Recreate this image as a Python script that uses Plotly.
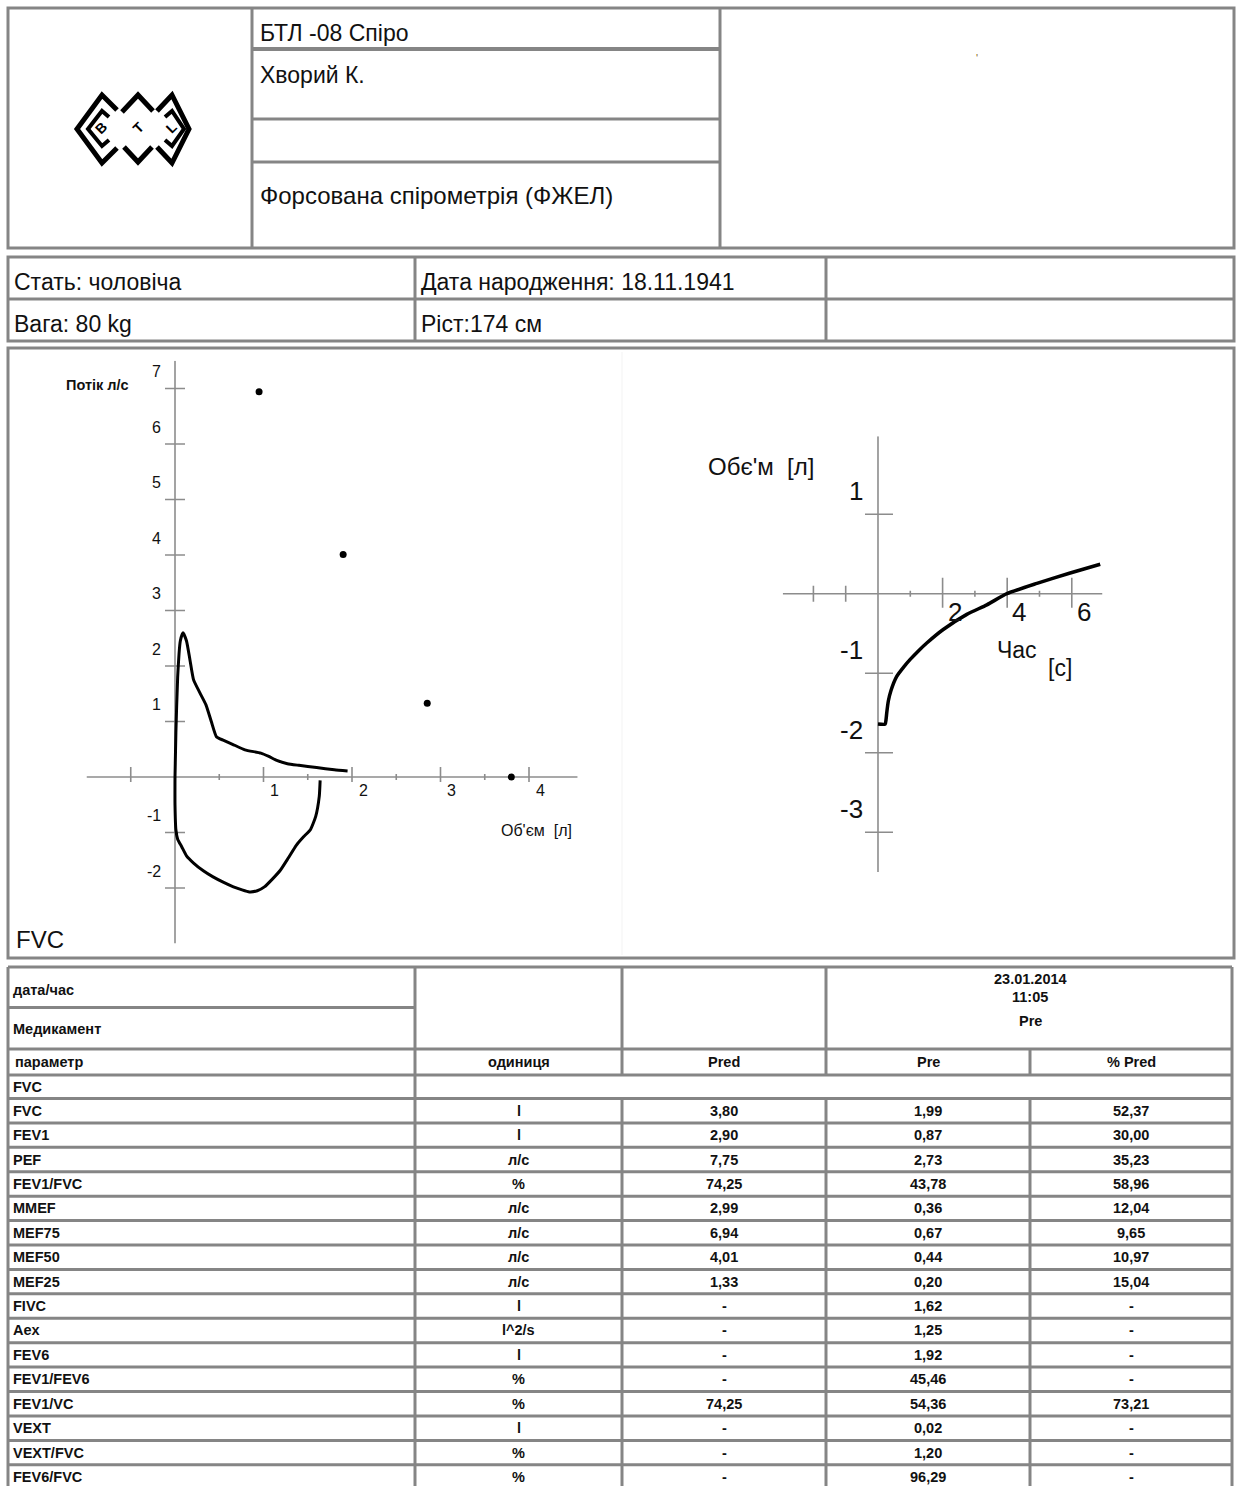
import plotly.graph_objects as go

# ---------------------------------------------------------------- data
# Table of spirometry parameters
params = ["FVC", "FEV1", "PEF", "FEV1/FVC", "MMEF", "MEF75", "MEF50", "MEF25",
          "FIVC", "Aex", "FEV6", "FEV1/FEV6", "FEV1/VC", "VEXT", "VEXT/FVC", "FEV6/FVC"]
units = ["l", "l", "л/с", "%", "л/с", "л/с", "л/с", "л/с",
         "l", "l^2/s", "l", "%", "%", "l", "%", "%"]
pred_vals = [3.80, 2.90, 7.75, 74.25, 2.99, 6.94, 4.01, 1.33,
             None, None, None, None, 74.25, None, None, None]
pre_vals = [1.99, 0.87, 2.73, 43.78, 0.36, 0.67, 0.44, 0.20,
            1.62, 1.25, 1.92, 45.46, 54.36, 0.02, 1.20, 96.29]
pct_pred_vals = [52.37, 30.00, 35.23, 58.96, 12.04, 9.65, 10.97, 15.04,
                 None, None, None, None, 73.21, None, None, None]

# Flow-volume loop: expiratory limb (volume l, flow l/s)
exp_volume = [0.00, 0.01, 0.03, 0.06, 0.09, 0.13, 0.17, 0.21, 0.28, 0.35, 0.41, 0.47,
              0.55, 0.65, 0.79, 0.97, 1.06, 1.15, 1.27, 1.40, 1.60, 1.80, 1.95]
exp_flow = [0.00, 0.80, 1.80, 2.45, 2.60, 2.45, 2.10, 1.75, 1.52, 1.30, 1.00, 0.72,
            0.66, 0.59, 0.49, 0.43, 0.37, 0.30, 0.24, 0.21, 0.17, 0.13, 0.11]
# Flow-volume loop: inspiratory limb
insp_volume = [1.64, 1.63, 1.59, 1.53, 1.45, 1.37, 1.28, 1.19, 1.10, 1.01, 0.93, 0.84,
               0.75, 0.66, 0.55, 0.43, 0.32, 0.21, 0.13, 0.077, 0.03, 0.01, 0.00, 0.00]
insp_flow = [-0.06, -0.35, -0.71, -0.95, -1.08, -1.23, -1.46, -1.68, -1.84, -1.98, -2.05, -2.07,
             -2.03, -1.98, -1.90, -1.80, -1.69, -1.55, -1.42, -1.26, -1.12, -0.95, -0.50, 0.00]

# Predicted points on the loop: MEF75, MEF50, MEF25 and FVC
pred_fraction = [0.25, 0.50, 0.75, 1.00]
pred_flow = [6.94, 4.01, 1.33, 0.0]

# Volume-time curve (time s, volume l)
vt_time = [0.00, 0.22, 0.25, 0.27, 0.32, 0.40, 0.58, 0.80, 0.99, 1.25, 1.51, 2.02,
           2.75, 3.37, 3.99, 4.92, 5.95, 6.88]
vt_volume = [-1.64, -1.64, -1.58, -1.50, -1.35, -1.22, -1.04, -0.92, -0.83, -0.72, -0.62, -0.45,
             -0.26, -0.14, 0.00, 0.13, 0.26, 0.37]

fv_yticks = [-2, -1, 1, 2, 3, 4, 5, 6, 7]
fv_xticks = [1, 2, 3, 4]
fv_xmajor = [-0.5, 1, 2, 3, 4]
fv_xminor = [0.5, 1.5, 2.5, 3.5]
vt_yticks = [-3, -2, -1, 1]
vt_xticks = [2, 4, 6]
vt_xleft = [-2, -1]
vt_xminor = [1, 3, 5]

# ---------------------------------------------------------------- layout helpers
W, H = 1239, 1486
FONT = "Liberation Sans, Arial, sans-serif"
GRID = "#858585"
AXIS = "#8c8c8c"


def fx(x):
    return x / W


def fy(y):
    return 1 - y / H


def fmt(v):
    return "-" if v is None else f"{v:.2f}".replace(".", ",")


shapes = []
annotations = []


def line(x0, y0, x1, y1, color=GRID, width=3):
    shapes.append(dict(type="line", xref="paper", yref="paper",
                       x0=fx(x0), y0=fy(y0), x1=fx(x1), y1=fy(y1),
                       line=dict(color=color, width=width)))


def rect(x0, y0, x1, y1, color=GRID, width=3):
    shapes.append(dict(type="rect", xref="paper", yref="paper",
                       x0=fx(x0), y0=fy(y0), x1=fx(x1), y1=fy(y1),
                       line=dict(color=color, width=width)))


def text(x, y, s, size=22, anchor="left", bold=False, color="#111", family=FONT, angle=0):
    annotations.append(dict(xref="paper", yref="paper", x=fx(x), y=fy(y),
                            text=f"<b>{s}</b>" if bold else s, showarrow=False,
                            xanchor=anchor, yanchor="middle", textangle=angle,
                            font=dict(family=family, size=size, color=color)))


def path(points, width=5):
    d = "M " + " L ".join(f"{fx(px):.5f},{fy(py):.5f}" for px, py in points)
    shapes.append(dict(type="path", xref="paper", yref="paper", path=d,
                       line=dict(color="black", width=width)))


# ---------------------------------------------------------------- header block
rect(8, 8, 1234, 248)
line(252, 8, 252, 248)
line(720, 8, 720, 248)
line(252, 49, 720, 49, width=4)
line(252, 119, 720, 119)
line(252, 162, 720, 162)
text(258, 33, "БТЛ -08 Спіро", 23)
text(258, 75, "Хворий К.", 23)
text(258, 195, "Форсована спірометрія (ФЖЕЛ)", 24)
text(977, 58, "'", 11, anchor="center", color="#8a6a20")

# logo: three interlocked diamonds with rotated letters
path([(117, 110), (102, 95), (77, 129), (102, 163), (117, 148)])
path([(109, 117), (102, 111), (88, 129), (102, 146), (109, 140)], width=4)
path([(122, 112), (138, 95), (153, 111)])
path([(124, 147), (138, 162), (152, 147)])
path([(157, 111), (172, 95), (189, 129), (172, 163), (157, 147)])
path([(165, 117), (172, 111), (184, 129), (172, 146), (165, 140)], width=4)
for lx, letter in [(101, "B"), (138, "T"), (171, "L")]:
    text(lx, 128, letter, 14, anchor="center", bold=True, color="black", angle=-45)

# ---------------------------------------------------------------- patient block
rect(8, 257, 1234, 341)
line(8, 299, 1234, 299)
line(415, 257, 415, 341)
line(826, 257, 826, 341)
text(12, 282, "Стать: чоловіча", 23)
text(12, 324, "Вага: 80 kg", 23)
text(419, 282, "Дата народження: 18.11.1941", 23)
text(419, 324, "Ріст:174 см", 23)

# ---------------------------------------------------------------- chart block
rect(8, 348, 1234, 958)
line(622, 352, 622, 955, color="#f3f3f3", width=1)
text(14, 940, "FVC", 24)

# ---------------------------------------------------------------- results table
T_TOP, T_BOTTOM = 967, 1490
COLS = [8, 415, 622, 826, 1030, 1232]
ROW0, ROW_H = 1098.5, 24.42
n_rows = len(params)
row_edges = [ROW0 + ROW_H * k for k in range(n_rows + 1)]

line(8, T_TOP, 1232, T_TOP)
line(8, 1007.5, 415, 1007.5)
line(8, 1049, 1232, 1049)
line(8, 1075, 1232, 1075)
for yb in row_edges:
    line(8, yb, 1232, yb)
line(8, T_TOP, 8, T_BOTTOM)
line(1232, T_TOP, 1232, T_BOTTOM)
line(415, T_TOP, 415, T_BOTTOM)
for xc in (622, 826):
    line(xc, T_TOP, xc, 1075)
    line(xc, ROW0, xc, T_BOTTOM)
line(1030, 1049, 1030, 1075)
line(1030, ROW0, 1030, T_BOTTOM)

TS = 14.5
text(11, 990, "дата/час", TS, bold=True)
text(11, 1029, "Медикамент", TS, bold=True)
text(1030, 979, "23.01.2014", TS, anchor="center", bold=True)
text(1030, 997, "11:05", TS, anchor="center", bold=True)
text(1030, 1021, "Pre", TS, anchor="center", bold=True)
centers = [(COLS[i] + COLS[i + 1]) / 2 for i in range(1, 5)]
head_y = 1062
text(13, head_y, "параметр", TS, bold=True)
for cx, s in zip(centers, ["одиниця", "Pred", "Pre", "% Pred"]):
    text(cx, head_y, s, TS, anchor="center", bold=True)
text(11, 1087, "FVC", TS, bold=True)
for i in range(n_rows):
    cy = (row_edges[i] + row_edges[i + 1]) / 2
    text(11, cy, params[i], TS, bold=True)
    text(centers[0], cy, units[i], TS, anchor="center", bold=True)
    text(centers[1], cy, fmt(pred_vals[i]), TS, anchor="center", bold=True)
    text(centers[2], cy, fmt(pre_vals[i]), TS, anchor="center", bold=True)
    text(centers[3], cy, fmt(pct_pred_vals[i]), TS, anchor="center", bold=True)

# ---------------------------------------------------------------- plot areas
# flow-volume: origin pixel and pixels per unit
FV_X0, FV_XS, FV_Y0, FV_YS = 175, 88.5, 777, 55.5
fv_xr, fv_yr = [-1.0, 4.55], [-3.0, 7.5]
# volume-time
VT_X0, VT_XS, VT_Y0, VT_YS = 878, 32.3, 593.7, 79.5
vt_xr, vt_yr = [-2.95, 6.95], [-3.5, 1.98]

fig = go.Figure()


def segs(pairs):
    xs, ys = [], []
    for (a, b), (c, d) in pairs:
        xs += [a, c, None]
        ys += [b, d, None]
    return xs, ys


# flow-volume axes and ticks
fv_pairs = [((fv_xr[0], 0), (fv_xr[1], 0)), ((0, fv_yr[0]), (0, fv_yr[1]))]
fv_pairs += [((-10 / FV_XS, v), (10 / FV_XS, v)) for v in fv_yticks]
fv_pairs += [((v, -5 / FV_YS), (v, 10 / FV_YS)) for v in fv_xmajor]
fv_pairs += [((v, -3 / FV_YS), (v, 3 / FV_YS)) for v in fv_xminor]
ax, ay = segs(fv_pairs)
fig.add_trace(go.Scatter(x=ax, y=ay, mode="lines", line=dict(color=AXIS, width=1.6),
                         hoverinfo="skip", xaxis="x", yaxis="y"))
fig.add_trace(go.Scatter(x=exp_volume, y=exp_flow, mode="lines",
                         line=dict(color="black", width=3, shape="spline", smoothing=0.5),
                         xaxis="x", yaxis="y"))
fig.add_trace(go.Scatter(x=insp_volume, y=insp_flow, mode="lines",
                         line=dict(color="black", width=3, shape="spline", smoothing=0.5),
                         xaxis="x", yaxis="y"))
fvc_pred = pred_vals[params.index("FVC")]
fig.add_trace(go.Scatter(x=[f * fvc_pred for f in pred_fraction], y=pred_flow, mode="markers",
                         marker=dict(color="black", size=7), xaxis="x", yaxis="y"))

# volume-time axes and ticks
vt_pairs = [((vt_xr[0], 0), (vt_xr[1], 0)), ((0, vt_yr[0]), (0, vt_yr[1]))]
vt_pairs += [((-13 / VT_XS, v), (15 / VT_XS, v)) for v in vt_yticks]
vt_pairs += [((v, -14 / VT_YS), (v, 16 / VT_YS)) for v in vt_xticks]
vt_pairs += [((v, -8 / VT_YS), (v, 8 / VT_YS)) for v in vt_xleft]
vt_pairs += [((v, -3 / VT_YS), (v, 3 / VT_YS)) for v in vt_xminor]
bx, by = segs(vt_pairs)
fig.add_trace(go.Scatter(x=bx, y=by, mode="lines", line=dict(color=AXIS, width=1.6),
                         hoverinfo="skip", xaxis="x2", yaxis="y2"))
fig.add_trace(go.Scatter(x=vt_time, y=vt_volume, mode="lines",
                         line=dict(color="black", width=3.5, shape="spline", smoothing=0.6),
                         xaxis="x2", yaxis="y2"))

# tick labels
for v in fv_yticks:
    annotations.append(dict(xref="x", yref="y", x=0, y=v, text=str(v), showarrow=False,
                            xanchor="right", yanchor="middle", xshift=-12, yshift=17,
                            font=dict(family=FONT, size=16, color="#111")))
for v in fv_xticks:
    annotations.append(dict(xref="x", yref="y", x=v, y=0, text=str(v), showarrow=False,
                            xanchor="center", yanchor="middle", xshift=11, yshift=-13,
                            font=dict(family=FONT, size=16, color="#111")))
for v in vt_yticks:
    annotations.append(dict(xref="x2", yref="y2", x=0, y=v, text=str(v), showarrow=False,
                            xanchor="right", yanchor="middle", xshift=-13, yshift=23,
                            font=dict(family=FONT, size=26, color="#111")))
for v in vt_xticks:
    annotations.append(dict(xref="x2", yref="y2", x=v, y=0, text=str(v), showarrow=False,
                            xanchor="center", yanchor="middle", xshift=12, yshift=-18,
                            font=dict(family=FONT, size=26, color="#111")))

text(64, 385, "Потік л/с", 14.5, bold=True)
text(499, 830, "Об'єм  [л]", 16)
text(706, 466, "Обє'м  [л]", 24)
text(995, 650, "Час", 23)
text(1046, 668, "[с]", 23)

fig.update_layout(
    width=W, height=H, margin=dict(l=0, r=0, t=0, b=0),
    paper_bgcolor="white", plot_bgcolor="white", showlegend=False,
    xaxis=dict(range=fv_xr, visible=False, fixedrange=True,
               domain=[fx(FV_X0 + fv_xr[0] * FV_XS), fx(FV_X0 + fv_xr[1] * FV_XS)]),
    yaxis=dict(range=fv_yr, visible=False, fixedrange=True,
               domain=[fy(FV_Y0 - fv_yr[0] * FV_YS), fy(FV_Y0 - fv_yr[1] * FV_YS)]),
    xaxis2=dict(range=vt_xr, visible=False, fixedrange=True, anchor="y2",
                domain=[fx(VT_X0 + vt_xr[0] * VT_XS), fx(VT_X0 + vt_xr[1] * VT_XS)]),
    yaxis2=dict(range=vt_yr, visible=False, fixedrange=True, anchor="x2",
                domain=[fy(VT_Y0 - vt_yr[0] * VT_YS), fy(VT_Y0 - vt_yr[1] * VT_YS)]),
    shapes=shapes, annotations=annotations,
)

fig.write_html("out.html")
